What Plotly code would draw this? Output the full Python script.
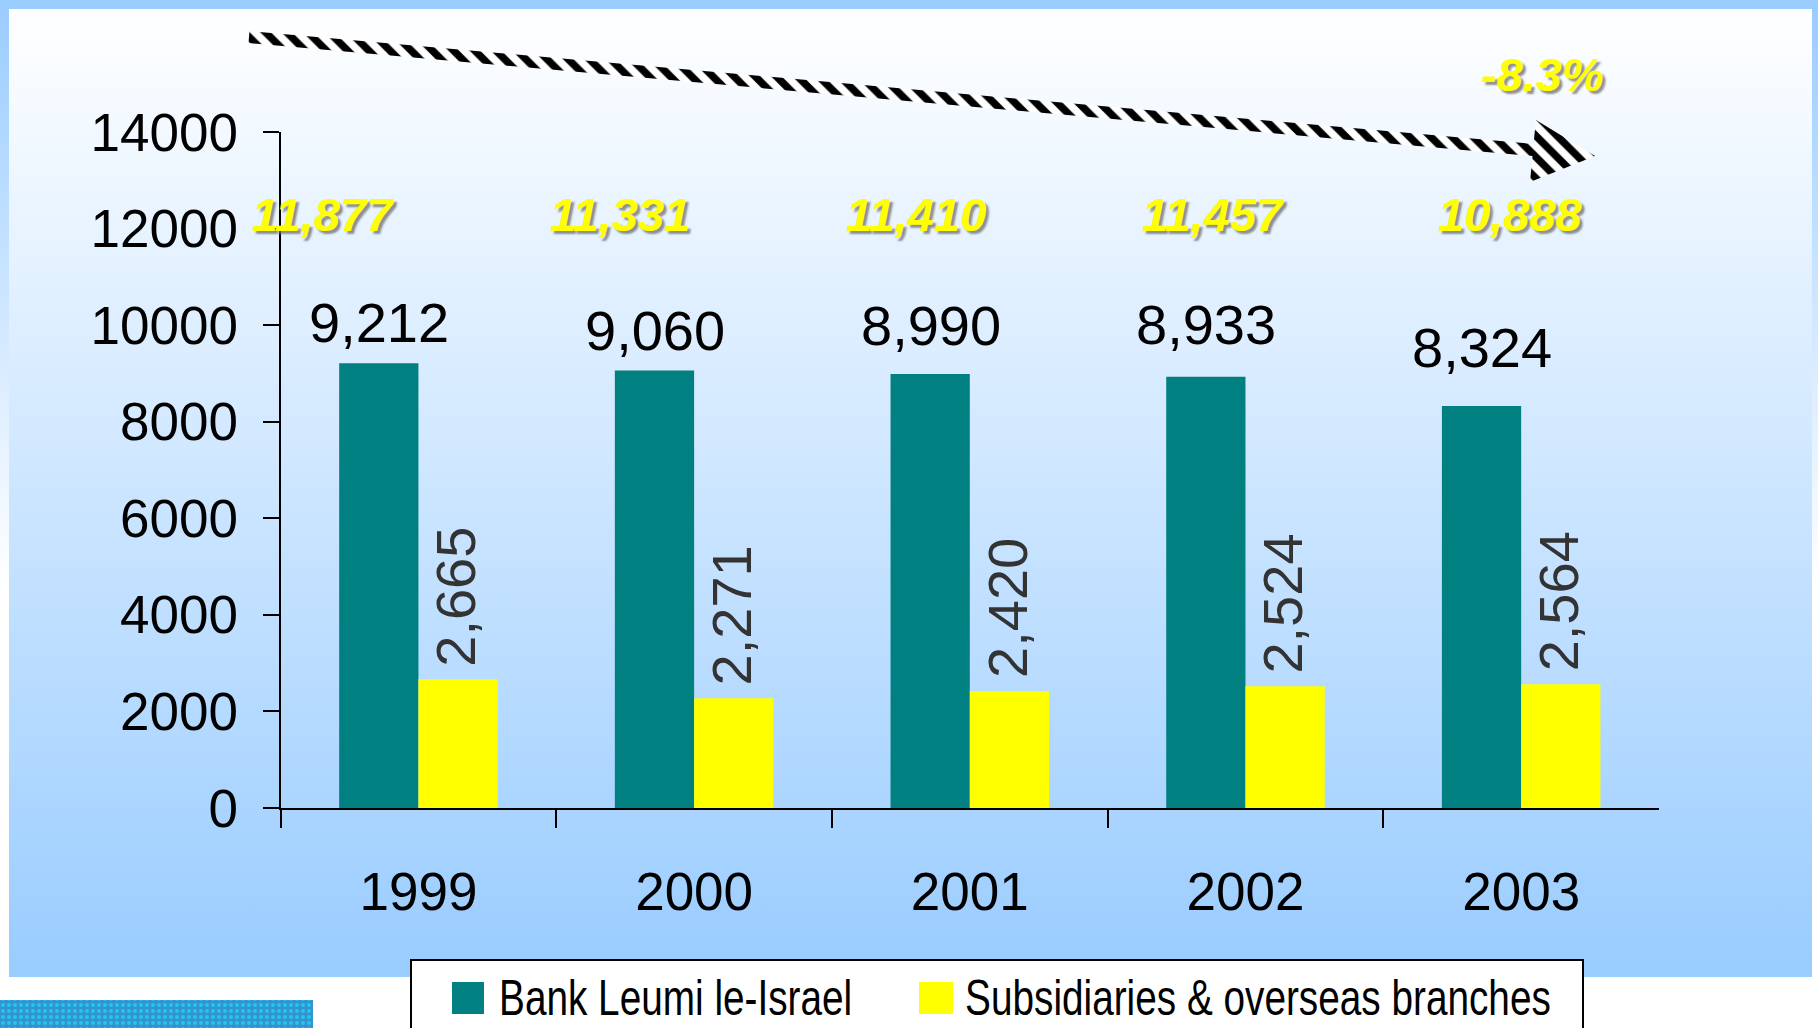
import json
import plotly.graph_objects as go

# ---- data -------------------------------------------------------------
years = ["1999", "2000", "2001", "2002", "2003"]
bank_leumi = [9212, 9060, 8990, 8933, 8324]
subsidiaries = [2665, 2271, 2420, 2524, 2564]
group_totals = [11877, 11331, 11410, 11457, 10888]
change_label = "-8.3%"
series_names = ["Bank Leumi le-Israel", "Subsidiaries & overseas branches"]
y_ticks = [0, 2000, 4000, 6000, 8000, 10000, 12000, 14000]

# ---- styling / geometry (pixels) ---------------------------------------
W, H = 1818, 1028
TEAL = "#008080"
YELLOW = "#FFFF00"
SKY = "#99CCFF"
FONT = "Liberation Sans, Arial, sans-serif"

PLOT_L, PLOT_R, PLOT_T, PLOT_B = 280.6, 1659.0, 132.0, 808.0
PANEL = (9, 9, 1812, 977)

# vertical lift (px) of each bank label above its bar
bank_label_lift = [41, 40, 48, 52, 59]


def rect(x0, y0, x1, y1):
    return [x0, x1, x1, x0, x0], [y0, y0, y1, y1, y0]


fig = go.Figure()

# Page backdrop: sky blue fading to white
bx, by = rect(0, 0, W, 978)
fig.add_trace(go.Scatter(
    x=bx, y=by, mode="lines", line=dict(width=0), fill="toself",
    fillgradient=dict(type="vertical", start=0, stop=978,
                      colorscale=[[0, SKY], [0.6, "#FFFFFF"], [1, "#FFFFFF"]]),
    xaxis="x", yaxis="y", hoverinfo="skip", showlegend=False))

# Chart panel: white fading to sky blue
px_, py_ = rect(*PANEL)
fig.add_trace(go.Scatter(
    x=px_, y=py_, mode="lines", line=dict(width=0), fill="toself",
    fillgradient=dict(type="vertical", start=PANEL[1], stop=PANEL[3],
                      colorscale=[[0, "#FFFFFF"], [1, SKY]]),
    xaxis="x", yaxis="y", hoverinfo="skip", showlegend=False))

# Hatched trend arrow across the top
arrow_x = [249.5, 1533.5, 1536, 1595, 1530, 1532.5, 248.5, 249.5]
arrow_y = [31, 144, 120, 156, 182, 156, 43, 31]
fig.add_trace(go.Scatter(
    x=arrow_x, y=arrow_y, mode="lines", line=dict(width=0), fill="toself",
    fillcolor="rgba(0,0,0,0)",
    fillpattern=dict(shape="\\", size=15, solidity=0.5,
                     fgcolor="#000000", bgcolor="#FFFFFF", fillmode="replace"),
    xaxis="x", yaxis="y", hoverinfo="skip", showlegend=False))

# Corporate logo strip in the lower-left corner
lx, ly = rect(0, 1000, 313, 1040)
fig.add_trace(go.Scatter(
    x=lx, y=ly, mode="lines", line=dict(width=0), fill="toself",
    fillcolor="rgba(0,0,0,0)",
    fillpattern=dict(shape=".", size=6, solidity=0.35,
                     fgcolor="#20C8E8", bgcolor="#3592D2", fillmode="replace"),
    xaxis="x", yaxis="y", hoverinfo="skip", showlegend=False))

# ---- bars ------------------------------------------------------------------
fig.add_trace(go.Bar(
    x=years, y=bank_leumi, name=series_names[0],
    marker=dict(color=TEAL, line=dict(width=0)),
    xaxis="x2", yaxis="y2", showlegend=False, hoverinfo="skip"))
fig.add_trace(go.Bar(
    x=years, y=subsidiaries, name=series_names[1],
    marker=dict(color=YELLOW, line=dict(width=0)),
    xaxis="x2", yaxis="y2", showlegend=False, hoverinfo="skip"))

annotations = []
n = len(years)
for i, v in enumerate(bank_leumi):
    annotations.append(dict(
        x=(i + 0.5) / n, xref="x2 domain", y=v, yref="y2",
        text=f"{v:,}", showarrow=False, xanchor="center", yanchor="middle",
        xshift=-39, yshift=bank_label_lift[i],
        font=dict(family=FONT, size=56, color="#000000")))
for i, v in enumerate(subsidiaries):
    annotations.append(dict(
        x=(i + 0.5) / n, xref="x2 domain", y=v, yref="y2",
        text=f"{v:,}", showarrow=False, textangle=-90,
        xanchor="center", yanchor="bottom", xshift=37, yshift=11,
        font=dict(family=FONT, size=56, color="#333333")))

total_font = dict(family=FONT, size=47, color=YELLOW, weight="bold",
                  style="italic", shadow="3px 3px 2px rgba(110,110,110,0.75)")
total_x = [323, 620, 916, 1213, 1510]
for tx, t in zip(total_x, group_totals):
    annotations.append(dict(
        x=tx, y=214, xref="x", yref="y", text=f"{t:,}", showarrow=False,
        xanchor="center", yanchor="middle", font=total_font))
annotations.append(dict(
    x=1542, y=74, xref="x", yref="y", text=change_label, showarrow=False,
    xanchor="center", yanchor="middle", font=total_font))

# ---- legend box ------------------------------------------------------------
shapes = [
    dict(type="rect", xref="x", yref="y", x0=411, y0=960, x1=1583, y1=1050,
         fillcolor="#FFFFFF", line=dict(color="#000000", width=2), layer="above"),
    dict(type="rect", xref="x", yref="y", x0=452, y0=982, x1=484, y1=1014,
         fillcolor=TEAL, line=dict(width=0), layer="above"),
    dict(type="rect", xref="x", yref="y", x0=919, y0=982, x1=953, y1=1014,
         fillcolor=YELLOW, line=dict(width=0), layer="above"),
]
for lx0, name in zip([497, 963], series_names):
    annotations.append(dict(
        x=lx0, y=998, xref="x", yref="y", text=name, showarrow=False,
        xanchor="left", yanchor="middle",
        font=dict(family=FONT, size=50, color="#000000")))

fig.update_layout(
    width=W, height=H,
    margin=dict(l=0, r=0, t=0, b=0, pad=0, autoexpand=False),
    paper_bgcolor="#FFFFFF", plot_bgcolor="rgba(0,0,0,0)",
    barmode="group", bargap=0.425, bargroupgap=0,
    xaxis=dict(domain=[0, 1], range=[0, W], visible=False, fixedrange=True),
    yaxis=dict(domain=[0, 1], range=[H, 0], visible=False, fixedrange=True),
    xaxis2=dict(domain=[PLOT_L / W, PLOT_R / W], anchor="y2",
                range=[-0.5, n - 0.5], type="category",
                showline=True, linecolor="#000000", linewidth=2,
                ticks="outside", tickson="boundaries", ticklen=18,
                tickwidth=2, tickcolor="#000000", showgrid=False,
                ticklabelstandoff=36,
                tickfont=dict(family=FONT, size=53, color="#000000")),
    yaxis2=dict(domain=[(H - PLOT_B) / H, (H - PLOT_T) / H], anchor="x2",
                range=[0, 14000], tickvals=y_ticks,
                ticktext=[str(v) for v in y_ticks],
                showline=True, linecolor="#000000", linewidth=2,
                ticks="outside", ticklen=16, tickwidth=2, tickcolor="#000000",
                showgrid=False, zeroline=False, ticklabelstandoff=14,
                tickfont=dict(family=FONT, size=53, color="#000000")),
    shapes=shapes,
    annotations=annotations,
    showlegend=False,
)

# Legend captions are set in a condensed face (horizontal squeeze of the sans)
condense_js = """
var gd = document.getElementById('{plot_id}');
var names = NAMES;
function condenseLegend() {
  gd.querySelectorAll('text.annotation-text').forEach(function (t) {
    if (names.indexOf(t.textContent) >= 0) {
      t.style.transformBox = 'fill-box';
      t.style.transformOrigin = '0% 50%';
      t.style.transform = 'scaleX(0.775)';
    }
  });
}
condenseLegend();
gd.on('plotly_afterplot', condenseLegend);
""".replace("NAMES", json.dumps(series_names))

fig.write_html("out.html", post_script=condense_js)
